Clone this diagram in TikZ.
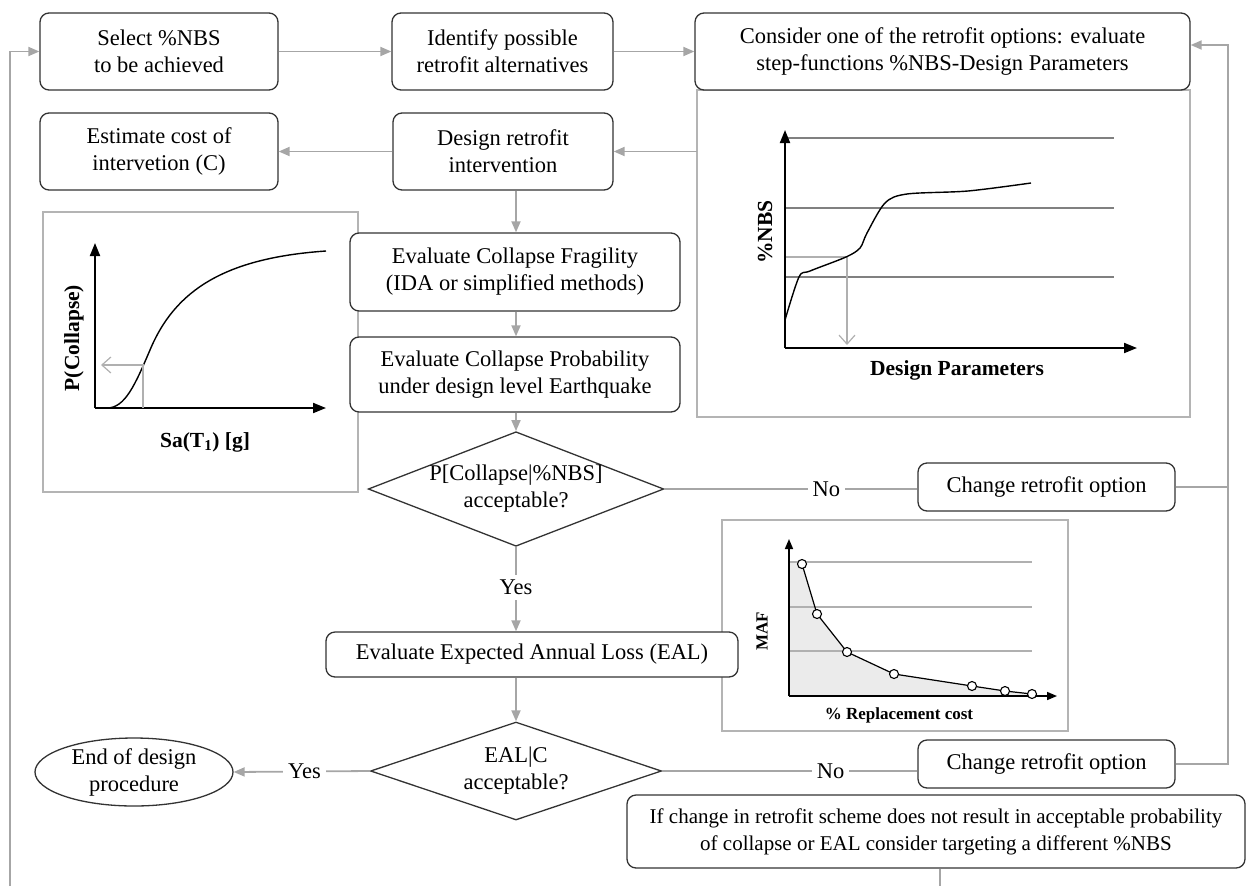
\documentclass[tikz,border=0pt]{standalone}
\usepackage{fontspec}
\setmainfont{Liberation Serif}
\usepackage{tikz}
\usetikzlibrary{arrows.meta,shapes.geometric,calc}
\usepackage{xcolor}
\definecolor{frame}{HTML}{333333}
\definecolor{connector}{HTML}{A6A6A6}
\definecolor{panelgray}{HTML}{B4B4B4}
\definecolor{gridgray}{HTML}{808080}
\definecolor{lightgrid}{HTML}{B0B0B0}
\definecolor{lossfill}{HTML}{EBEBEB}
\newcommand{\flowfont}{\fontsize{22.5}{27}\selectfont}
\newcommand{\notefont}{\fontsize{21}{27}\selectfont}
\tikzset{
  proc/.style={draw=frame,fill=white,line width=1.3pt,rounded corners=9pt,align=center,
    inner sep=2pt,font=\flowfont},
  decision/.style={draw=frame,fill=white,line width=1.3pt,diamond,inner sep=0pt,
    align=center,font=\flowfont},
  terminal/.style={draw=frame,fill=white,line width=1.3pt,ellipse,inner sep=0pt,
    align=center,font=\flowfont},
  arrow/.style={-{Triangle[length=11pt,width=9pt]},draw=connector,line width=1.8pt},
  link/.style={draw=connector,line width=1.8pt},
  lbl/.style={fill=white,inner sep=5pt,font=\flowfont},
  panel/.style={draw=panelgray,line width=1.3pt,inner sep=0pt,outer sep=0pt},
  axis/.style={-{Triangle[length=13pt,width=10pt]},line width=2pt},
  smallaxis/.style={-{Triangle[length=10pt,width=8pt]},line width=1.6pt},
  curve/.style={line width=1.4pt},
  guide/.style={draw=gridgray,line width=1.2pt},
  softguide/.style={draw=lightgrid,line width=1.2pt},
  pick/.style={-{Straight Barb[length=9pt,width=16pt]},draw=lightgrid,line width=1.2pt},
  axislabel/.style={font=\bfseries\fontsize{21.5}{24}\selectfont},
  tinylabel/.style={font=\bfseries\fontsize{17}{20}\selectfont}
}
\begin{document}
\begin{tikzpicture}[x=1pt,y=-1pt]
\useasboundingbox (0,0) rectangle (1246,886);

% plot panels
\node[panel,anchor=north west,minimum width=493pt,minimum height=327pt] (nbspanel) at (697,90) {};
\node[panel,anchor=north west,minimum width=315pt,minimum height=280pt] (pcpanel) at (43,212) {};
\node[panel,anchor=north west,minimum width=346pt,minimum height=211pt] (mafpanel) at (722,520) {};

% fragility curve
\draw[axis] (95,408) -- (95,243);
\draw[axis] (95,408) -- (326,408);
\draw[curve] (95,408) -- (107,408) .. controls (125,408) and (135,385) .. (150,350)
  .. controls (175,290) and (225,258) .. (326,251);
\draw[pick] (143,408) -- (143,365) -- (101,365);
\node[axislabel,rotate=90] (pcy) at (74,338) {P(Collapse)};
\node[axislabel] (pcx) at (205,442) {Sa(T\textsubscript{1}) [g]};

% step function %NBS - design parameters
\draw[guide] (785,138) -- (1114,138);
\draw[guide] (785,208) -- (1114,208);
\draw[guide] (785,277) -- (1114,277);
\draw[softguide] (785,257) -- (847,257);
\draw[pick] (847,257) -- (847,345);
\draw[axis] (785,348) -- (785,130);
\draw[axis] (785,348) -- (1137,348);
\draw[curve] plot[smooth,tension=0.5] coordinates {(785,320) (799,277) (810,271) (846,257)
  (860,248) (867,233) (885,203) (907,194) (968,191) (1031,183)};
\node[axislabel,rotate=90] (nbsy) at (765,232) {\%NBS};
\node[axislabel] (nbsx) at (957,370) {Design Parameters};

% loss curve
\fill[lossfill] (789,562) -- (802,564) -- (817,614) -- (847,652) -- (894,674) -- (972,686)
  -- (1005,691) -- (1032,694) -- (1032,696) -- (789,696) -- cycle;
\draw[softguide] (789,562) -- (1032,562);
\draw[softguide] (789,607) -- (1032,607);
\draw[softguide] (789,651) -- (1032,651);
\draw[smallaxis] (789,696) -- (789,539);
\draw[smallaxis] (789,696) -- (1057,696);
\draw[line width=1.2pt] (802,564) -- (817,614) -- (847,652) -- (894,674) -- (972,686)
  -- (1005,691) -- (1032,694);
\foreach \px/\py in {802/564,817/614,847/652,894/674,972/686,1005/691,1032/694}
  \draw[fill=white,line width=1.1pt] (\px,\py) circle (4.5pt);
\node[tinylabel,rotate=90] (mafy) at (762,631) {MAF};
\node[tinylabel] (mafx) at (899,715) {\% Replacement cost};

% flow boxes
\node[proc,minimum width=238pt,minimum height=77pt] (sel) at (159,51.5) {Select \%NBS\\to be achieved};
\node[proc,minimum width=221pt,minimum height=77pt] (alt) at (502.5,51.5) {Identify possible\\retrofit alternatives};
\node[proc,minimum width=495pt,minimum height=77pt] (opt) at (942.5,51.5) {Consider one of the retrofit options: evaluate\\step-functions \%NBS-Design Parameters};
\node[proc,minimum width=238pt,minimum height=77pt] (est) at (159,151.5) {Estimate cost of\\intervetion (C)};
\node[proc,minimum width=220pt,minimum height=77pt] (dsg) at (503,151.5) {Design retrofit\\intervention};
\node[proc,minimum width=330pt,minimum height=78pt] (frag) at (515,272) {Evaluate Collapse Fragility\\(IDA or simplified methods)};
\node[proc,minimum width=330pt,minimum height=75pt] (prob) at (515,374.5) {Evaluate Collapse Probability\\under design level Earthquake};
\node[decision,aspect=2.58,minimum width=291pt,minimum height=113pt] (dia1) at (516,489) {P[Collapse|\%NBS]\\acceptable?};
\node[proc,minimum width=257pt,minimum height=48pt] (chg1) at (1046.5,487) {Change retrofit option};
\node[proc,minimum width=412pt,minimum height=45pt] (eal) at (532,654.5) {Evaluate Expected Annual Loss (EAL)};
\node[decision,aspect=2.97,minimum width=291pt,minimum height=98pt] (dia2) at (516,771) {EAL|C\\acceptable?};
\node[proc,minimum width=257pt,minimum height=48pt] (chg2) at (1046.5,764) {Change retrofit option};
\node[terminal,minimum width=198pt,minimum height=68pt] (fin) at (134,772) {End of design\\procedure};
\node[proc,font=\notefont,minimum width=618pt,minimum height=73pt] (note) at (936,831.5) {If change in retrofit scheme does not result in acceptable probability\\of collapse or EAL consider targeting a different \%NBS};

% connectors
\coordinate (spine) at (516,0);
\coordinate (loopL) at (10,886);
\coordinate (loopR) at (1228,45);
\coordinate (loopB) at (940,886);
\draw[arrow] (sel) -- (alt);
\draw[arrow] (alt) -- (opt);
\draw[arrow] (nbspanel.west |- dsg) -- (dsg);
\draw[arrow] (dsg) -- (est);
\draw[arrow] (spine |- dsg.south) -- (spine |- frag.north);
\draw[arrow] (spine |- frag.south) -- (spine |- prob.north);
\draw[arrow] (spine |- prob.south) -- (dia1.north);
\draw[link] (dia1.east) -- node[lbl,pos=0.64] {No} (dia1.east -| chg1.west);
\draw[arrow] (dia1.south) -- node[lbl,pos=0.48] {Yes} (spine |- eal.north);
\draw[arrow] (spine |- eal.south) -- (dia2.north);
\draw[arrow] (dia2.west) -- node[lbl,pos=0.48] {Yes} (fin.east);
\draw[link] (dia2.east) -- node[lbl,pos=0.66] {No} (dia2.east -| chg2.west);
\draw[link] (chg1.east) -- (chg1.east -| loopR);
\draw[arrow] (chg2.east) -| (loopR) -- (loopR -| opt.east);
\draw[arrow] (loopL) |- (sel.west);
\draw[link] (loopB |- note.south) -- (loopB);
\end{tikzpicture}
\end{document}
